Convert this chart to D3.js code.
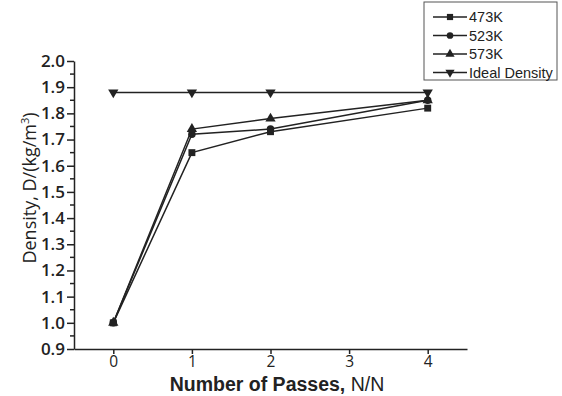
<!DOCTYPE html>
<html>
<head>
<meta charset="utf-8">
<script src="https://cdn.jsdelivr.net/npm/d3@7"></script>
<style>
  body { margin: 0; background: #fff; }
  svg { display: block; }
</style>
</head>
<body>
<div id="chart"></div>
<script>
// data
const passes = [0, 1, 2, 4];
const xTicks = [0, 1, 2, 3, 4];
const yTicks = [0.9, 1.0, 1.1, 1.2, 1.3, 1.4, 1.5, 1.6, 1.7, 1.8, 1.9, 2.0];
const d473 = [1.0, 1.65, 1.73, 1.82];
const d523 = [1.0, 1.72, 1.74, 1.85];
const d573 = [1.0, 1.74, 1.78, 1.85];
const dIdeal = [1.88, 1.88, 1.88, 1.88];
const seriesNames = ['473K', '523K', '573K', 'Ideal Density'];

const series = [
    { name: seriesNames[0], vals: d473, sym: d3.symbolSquare, size: 48, rot: 0 },
    { name: seriesNames[1], vals: d523, sym: d3.symbolCircle, size: 44, rot: 0 },
    { name: seriesNames[2], vals: d573, sym: d3.symbolTriangle, size: 46, rot: 0 },
    { name: seriesNames[3], vals: dIdeal, sym: d3.symbolTriangle, size: 46, rot: 180 }
];

const W = 562, H = 396;
const margin = { left: 74, right: 95, top: 61, bottom: 47 };
const ink = '#222';

const svg = d3.select('#chart').append('svg')
    .attr('width', W)
    .attr('height', H);

const x = d3.scaleLinear().domain([-0.5, 4.5]).range([margin.left, W - margin.right]);
const y = d3.scaleLinear().domain([0.9, 2.0]).range([H - margin.bottom, margin.top]);

// y axis, major ticks
const yAxis = svg.append('g')
    .attr('transform', 'translate(' + margin.left + ',0)')
    .call(d3.axisLeft(y).tickValues(yTicks).tickFormat(d3.format('.1f')).tickSize(7).tickPadding(2).tickSizeOuter(0));
yAxis.select('.domain').attr('stroke', ink).attr('stroke-width', 1.5);
yAxis.selectAll('.tick line').attr('stroke', ink).attr('stroke-width', 1.5);
yAxis.selectAll('.tick text')
    .attr('fill', ink)
    .style('font-family', '"Open Sans", "DejaVu Sans", sans-serif')
    .style('font-size', '17px')
    .style('font-weight', '600');

// y minor ticks
svg.append('g').selectAll('line')
    .data(yTicks.slice(0, -1).map(v => v + 0.05))
    .enter().append('line')
    .attr('x1', margin.left - 4).attr('x2', margin.left)
    .attr('y1', d => y(d)).attr('y2', d => y(d))
    .attr('stroke', ink).attr('stroke-width', 1.5);

// x axis
const xAxis = svg.append('g')
    .attr('transform', 'translate(0,' + (H - margin.bottom) + ')')
    .call(d3.axisBottom(x).tickValues(xTicks).tickFormat(d3.format('d')).tickSize(5).tickPadding(2).tickSizeOuter(0));
xAxis.select('.domain').attr('stroke', ink).attr('stroke-width', 1.5);
xAxis.selectAll('.tick line').attr('stroke', ink).attr('stroke-width', 1.5);
xAxis.selectAll('.tick text')
    .attr('fill', ink)
    .style('font-family', '"Open Sans", "DejaVu Sans", sans-serif')
    .style('font-size', '15.5px');

// axis titles
const xTitle = svg.append('text')
    .attr('x', 277)
    .attr('y', 391)
    .attr('text-anchor', 'middle')
    .attr('fill', ink)
    .style('font-family', '"Liberation Sans", Arial, sans-serif')
    .style('font-size', '19.5px');
xTitle.append('tspan').style('font-weight', 'bold').text('Number of Passes, ');
xTitle.append('tspan').text('N/N');

const yTitle = svg.append('text')
    .attr('transform', 'translate(36,' + 188 + ') rotate(-90)')
    .attr('text-anchor', 'middle')
    .attr('fill', ink)
    .style('font-family', '"Open Sans", "DejaVu Sans", sans-serif')
    .style('font-size', '16px');
yTitle.append('tspan').text('Density, D/(kg/m');
yTitle.append('tspan').attr('dy', -7).style('font-size', '11px').text('3');
yTitle.append('tspan').attr('dy', 7).text(')');

// the title runs about 175px long in the reference, size the font to fit
const titleLen = yTitle.node().getBBox().width;
if (titleLen > 0) {
    const fs = Math.min(18, 16 * 175 / titleLen);
    yTitle.style('font-size', fs + 'px');
}

// lines and markers
const line = d3.line()
    .x((d, i) => x(passes[i]))
    .y(d => y(d));

series.forEach(s => {
    svg.append('path')
        .datum(s.vals)
        .attr('d', line)
        .attr('fill', 'none')
        .attr('stroke', ink)
        .attr('stroke-width', 1.5);

    svg.append('g').selectAll('path')
        .data(s.vals)
        .enter().append('path')
        .attr('d', d3.symbol().type(s.sym).size(s.size))
        .attr('transform', (d, i) => 'translate(' + x(passes[i]) + ',' + y(d) + ') rotate(' + s.rot + ')')
        .attr('fill', ink);
});

// legend
const lg = svg.append('g').attr('transform', 'translate(424,2)');
lg.append('rect')
    .attr('width', 133).attr('height', 78)
    .attr('fill', '#fff')
    .attr('stroke', '#555')
    .attr('stroke-width', 1);

const row = lg.selectAll('g.row')
    .data(series)
    .enter().append('g')
    .attr('class', 'row')
    .attr('transform', (d, i) => 'translate(0,' + (15 + i * 18.5) + ')');

row.append('line')
    .attr('x1', 9).attr('x2', 43)
    .attr('stroke', ink).attr('stroke-width', 1.5);
row.append('path')
    .attr('d', d => d3.symbol().type(d.sym).size(d.size * 0.8)())
    .attr('transform', d => 'translate(26,0) rotate(' + d.rot + ')')
    .attr('fill', ink);
row.append('text')
    .attr('x', 45)
    .attr('dy', '0.35em')
    .attr('fill', ink)
    .style('font-family', '"Liberation Sans", Arial, sans-serif')
    .style('font-size', '14.5px')
    .text(d => d.name);
</script>
</body>
</html>
